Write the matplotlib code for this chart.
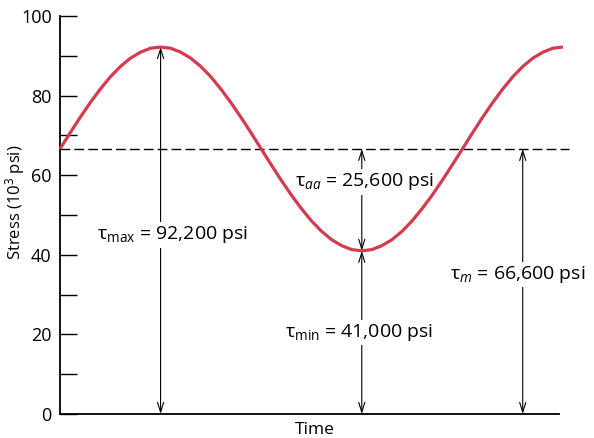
import numpy as np
import matplotlib
matplotlib.use("Agg")
import matplotlib.pyplot as plt
from matplotlib.ticker import MultipleLocator

FONT = "Open Sans"
plt.rcParams["font.family"] = [FONT, "DejaVu Sans"]
plt.rcParams["mathtext.fontset"] = "custom"
plt.rcParams["mathtext.rm"] = FONT
plt.rcParams["mathtext.it"] = FONT + ":italic"
plt.rcParams["mathtext.bf"] = FONT + ":bold"

# stress curve (10^3 psi), one point every 1/40 cycle
stress = [66.6, 70.6, 74.5, 78.2, 81.6, 84.7, 87.3, 89.4, 90.9, 91.9, 92.2,
          91.9, 90.9, 89.4, 87.3, 84.7, 81.6, 78.2, 74.5, 70.6, 66.6,
          62.6, 58.7, 55.0, 51.6, 48.5, 45.9, 43.8, 42.3, 41.3, 41.0,
          41.3, 42.3, 43.8, 45.9, 48.5, 51.6, 55.0, 58.7, 62.6, 66.6,
          70.6, 74.5, 78.2, 81.6, 84.7, 87.3, 89.4, 90.9, 91.9, 92.2]
time = np.arange(len(stress)) * 0.025

tau_max = 92.2
tau_min = 41.0
tau_m = 66.6
t_peak, t_trough, t_mean = 0.25, 0.75, 1.15

labels = {
    "max": "τ$_{\\mathrm{max}}$ = 92,200 psi",
    "aa": "τ$_{aa}$ = 25,600 psi",
    "min": "τ$_{\\mathrm{min}}$ = 41,000 psi",
    "m": "τ$_{m}$ = 66,600 psi",
}

fig = plt.figure(figsize=(5.94, 4.38), dpi=100)
ax = fig.add_axes([0.101, 0.0548, 0.84, 0.9087])

ax.plot(time, stress, color="#d63a4e", lw=2.3, zorder=4, clip_on=False,
        solid_capstyle="butt")
ax.plot([0, 1.265], [tau_m, tau_m], color="black", lw=1.0, dashes=(7, 3),
        zorder=2, clip_on=False)


def arrow(x, y0, y1):
    ax.annotate("", xy=(x, y1), xytext=(x, y0),
                arrowprops=dict(arrowstyle="<->,head_length=0.7,head_width=0.22",
                                color="black", lw=0.8, shrinkA=0, shrinkB=0),
                zorder=1, annotation_clip=False)


arrow(t_peak, 0, tau_max)
arrow(t_trough, tau_min, tau_m)
arrow(t_trough, 0, tau_min)
arrow(t_mean, 0, tau_m)

box = dict(facecolor="white", edgecolor="none", pad=1.5)
kw = dict(ha="center", va="center", fontsize=14, bbox=box, zorder=3)
ax.text(0.28, 45.0, labels["max"], **kw)
ax.text(0.756, 58.3, labels["aa"], **kw)
ax.text(0.744, 20.4, labels["min"], **kw)
ax.text(1.138, 35.0, labels["m"], **kw)

ax.set_xlim(0, 1.24)
ax.set_ylim(0, 100)
ax.yaxis.set_major_locator(MultipleLocator(20))
ax.yaxis.set_minor_locator(MultipleLocator(10))
ax.tick_params(axis="y", which="both", direction="in", length=12, width=1.0,
               labelsize=13, pad=6)
ax.set_xticks([])
for s in ("top", "right"):
    ax.spines[s].set_visible(False)
for s in ("left", "bottom"):
    ax.spines[s].set_linewidth(1.3)

ax.set_ylabel("Stress (10$^3$ psi)", fontsize=12)
ax.yaxis.set_label_coords(-0.066, 0.533)
ax.set_xlabel("Time", fontsize=12.5)
ax.xaxis.set_label_coords(0.511, -0.02)

fig.savefig("out.png", dpi=100)
